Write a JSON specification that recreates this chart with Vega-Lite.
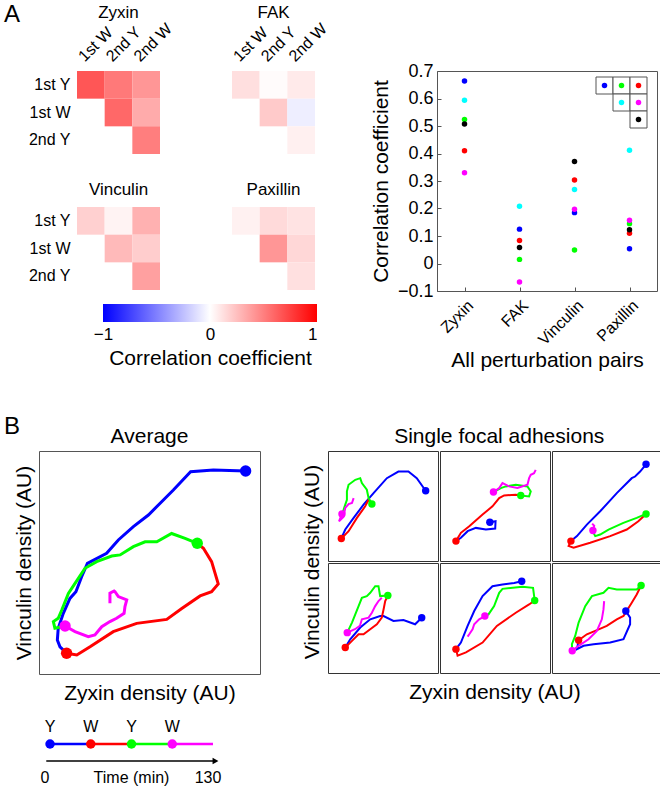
{
"$schema":"https://vega.github.io/schema/vega-lite/v6.json",
"padding":{"left":4,"top":3,"right":0,"bottom":0},
"config":{"font":"Liberation Sans","view":{"stroke":null},"title":{"fontWeight":"normal","color":"#000"},"axis":{"labelColor":"#000","titleColor":"#000","titleFontWeight":"normal","grid":false},"header":{"titleFontWeight":"normal","titleColor":"#000"}},
"datasets":{
"corr":[
{"protein":"Zyxin","pair":"Y1-W1","row":"1st Y","col":"1st W","r":0.664},
{"protein":"Zyxin","pair":"Y1-Y2","row":"1st Y","col":"2nd Y","r":0.524},
{"protein":"Zyxin","pair":"Y1-W2","row":"1st Y","col":"2nd W","r":0.41},
{"protein":"Zyxin","pair":"W1-Y2","row":"1st W","col":"2nd Y","r":0.594},
{"protein":"Zyxin","pair":"W1-W2","row":"1st W","col":"2nd W","r":0.33},
{"protein":"Zyxin","pair":"Y2-W2","row":"2nd Y","col":"2nd W","r":0.507},
{"protein":"FAK","pair":"Y1-W1","row":"1st Y","col":"1st W","r":0.125},
{"protein":"FAK","pair":"Y1-Y2","row":"1st Y","col":"2nd Y","r":0.015},
{"protein":"FAK","pair":"Y1-W2","row":"1st Y","col":"2nd W","r":0.084},
{"protein":"FAK","pair":"W1-Y2","row":"1st W","col":"2nd Y","r":0.208},
{"protein":"FAK","pair":"W1-W2","row":"1st W","col":"2nd W","r":-0.067},
{"protein":"FAK","pair":"Y2-W2","row":"2nd Y","col":"2nd W","r":0.058},
{"protein":"Vinculin","pair":"Y1-W1","row":"1st Y","col":"1st W","r":0.185},
{"protein":"Vinculin","pair":"Y1-Y2","row":"1st Y","col":"2nd Y","r":0.049},
{"protein":"Vinculin","pair":"Y1-W2","row":"1st Y","col":"2nd W","r":0.304},
{"protein":"Vinculin","pair":"W1-Y2","row":"1st W","col":"2nd Y","r":0.269},
{"protein":"Vinculin","pair":"W1-W2","row":"1st W","col":"2nd W","r":0.197},
{"protein":"Vinculin","pair":"Y2-W2","row":"2nd Y","col":"2nd W","r":0.371},
{"protein":"Paxillin","pair":"Y1-W1","row":"1st Y","col":"1st W","r":0.054},
{"protein":"Paxillin","pair":"Y1-Y2","row":"1st Y","col":"2nd Y","r":0.145},
{"protein":"Paxillin","pair":"Y1-W2","row":"1st Y","col":"2nd W","r":0.11},
{"protein":"Paxillin","pair":"W1-Y2","row":"1st W","col":"2nd Y","r":0.412},
{"protein":"Paxillin","pair":"W1-W2","row":"1st W","col":"2nd W","r":0.157},
{"protein":"Paxillin","pair":"Y2-W2","row":"2nd Y","col":"2nd W","r":0.123}
],
"key":[
{"pair":"Y1-W1","kr":0,"kc":0},{"pair":"Y1-Y2","kr":0,"kc":1},{"pair":"Y1-W2","kr":0,"kc":2},
{"pair":"W1-Y2","kr":1,"kc":1},{"pair":"W1-W2","kr":1,"kc":2},{"pair":"Y2-W2","kr":2,"kc":2}
],
"phases":[
{"ph":"Y1","lab":"Y","t0":0,"t1":32.5},{"ph":"W1","lab":"W","t0":32.5,"t1":65},
{"ph":"Y2","lab":"Y","t0":65,"t1":97.5},{"ph":"W2","lab":"W","t0":97.5,"t1":130}
],
"avg":[
{"ph":"Y1","i":0,"x":93.5,"y":91.0},{"ph":"Y1","i":1,"x":78.9,"y":91.5},{"ph":"Y1","i":2,"x":68.6,"y":90.7},{"ph":"Y1","i":3,"x":60.8,"y":82.5},{"ph":"Y1","i":4,"x":49.5,"y":71.3},{"ph":"Y1","i":5,"x":42.7,"y":66.1},{"ph":"Y1","i":6,"x":35.9,"y":60.1},{"ph":"Y1","i":7,"x":30.6,"y":54.1},{"ph":"Y1","i":8,"x":21.9,"y":49.6},{"ph":"Y1","i":9,"x":19.3,"y":43.6},{"ph":"Y1","i":10,"x":16.7,"y":36.9},{"ph":"Y1","i":11,"x":14.0,"y":33.9},{"ph":"Y1","i":12,"x":11.0,"y":27.2},{"ph":"Y1","i":13,"x":8.7,"y":20.5},{"ph":"Y1","i":14,"x":8.3,"y":15.2},{"ph":"Y1","i":15,"x":9.5,"y":12.2},{"ph":"Y1","i":16,"x":12.5,"y":9.3},
{"ph":"W1","i":0,"x":12.5,"y":9.3},{"ph":"W1","i":1,"x":17.1,"y":8.5},{"ph":"W1","i":2,"x":23.1,"y":12.2},{"ph":"W1","i":3,"x":33.6,"y":19.0},{"ph":"W1","i":4,"x":44.2,"y":22.7},{"ph":"W1","i":5,"x":57.8,"y":24.5},{"ph":"W1","i":6,"x":64.6,"y":29.4},{"ph":"W1","i":7,"x":72.9,"y":35.0},{"ph":"W1","i":8,"x":78.1,"y":36.9},{"ph":"W1","i":9,"x":81.1,"y":40.4},{"ph":"W1","i":10,"x":78.1,"y":50.4},{"ph":"W1","i":11,"x":74.4,"y":56.4},{"ph":"W1","i":12,"x":71.6,"y":58.6},
{"ph":"Y2","i":0,"x":71.6,"y":58.6},{"ph":"Y2","i":1,"x":66.1,"y":60.8},{"ph":"Y2","i":2,"x":60.0,"y":63.0},{"ph":"Y2","i":3,"x":53.3,"y":59.3},{"ph":"Y2","i":4,"x":48.0,"y":59.3},{"ph":"Y2","i":5,"x":42.7,"y":57.1},{"ph":"Y2","i":6,"x":36.7,"y":53.4},{"ph":"Y2","i":7,"x":32.9,"y":52.9},{"ph":"Y2","i":8,"x":26.1,"y":50.4},{"ph":"Y2","i":9,"x":20.8,"y":47.4},{"ph":"Y2","i":10,"x":17.8,"y":42.9},{"ph":"Y2","i":11,"x":13.3,"y":36.1},{"ph":"Y2","i":12,"x":10.3,"y":28.7},{"ph":"Y2","i":13,"x":8.7,"y":25.0},{"ph":"Y2","i":14,"x":6.5,"y":23.5},{"ph":"Y2","i":15,"x":7.2,"y":20.5},{"ph":"Y2","i":16,"x":11.8,"y":21.5},
{"ph":"W2","i":0,"x":11.8,"y":21.5},{"ph":"W2","i":1,"x":16.3,"y":19.0},{"ph":"W2","i":2,"x":22.3,"y":16.7},{"ph":"W2","i":3,"x":25.3,"y":17.5},{"ph":"W2","i":4,"x":28.4,"y":21.2},{"ph":"W2","i":5,"x":32.1,"y":23.5},{"ph":"W2","i":6,"x":35.1,"y":25.0},{"ph":"W2","i":7,"x":38.5,"y":27.2},{"ph":"W2","i":8,"x":38.9,"y":30.2},{"ph":"W2","i":9,"x":39.7,"y":33.2},{"ph":"W2","i":10,"x":35.9,"y":34.7},{"ph":"W2","i":11,"x":34.4,"y":36.9},{"ph":"W2","i":12,"x":34.0,"y":37.2},{"ph":"W2","i":13,"x":32.1,"y":36.2},{"ph":"W2","i":14,"x":32.1,"y":31.7}
],
"fa":[
{"pr":1,"pc":1,"ph":"Y1","i":0,"x":88.8,"y":63.9},{"pr":1,"pc":1,"ph":"Y1","i":1,"x":80.7,"y":75.3},{"pr":1,"pc":1,"ph":"Y1","i":2,"x":73.1,"y":81.3},{"pr":1,"pc":1,"ph":"Y1","i":3,"x":64.0,"y":81.3},{"pr":1,"pc":1,"ph":"Y1","i":4,"x":53.5,"y":75.3},{"pr":1,"pc":1,"ph":"Y1","i":5,"x":41.4,"y":61.7},{"pr":1,"pc":1,"ph":"Y1","i":6,"x":32.3,"y":51.2},{"pr":1,"pc":1,"ph":"Y1","i":7,"x":23.3,"y":39.2},{"pr":1,"pc":1,"ph":"Y1","i":8,"x":15.7,"y":28.6},{"pr":1,"pc":1,"ph":"Y1","i":9,"x":12.1,"y":20.5},
{"pr":1,"pc":1,"ph":"W1","i":0,"x":12.1,"y":20.5},{"pr":1,"pc":1,"ph":"W1","i":1,"x":18.7,"y":27.1},{"pr":1,"pc":1,"ph":"W1","i":2,"x":26.3,"y":39.2},{"pr":1,"pc":1,"ph":"W1","i":3,"x":33.8,"y":49.7},{"pr":1,"pc":1,"ph":"W1","i":4,"x":36.9,"y":55.7},{"pr":1,"pc":1,"ph":"W1","i":5,"x":39.9,"y":51.8},
{"pr":1,"pc":1,"ph":"Y2","i":0,"x":39.9,"y":51.8},{"pr":1,"pc":1,"ph":"Y2","i":1,"x":36.9,"y":57.2},{"pr":1,"pc":1,"ph":"Y2","i":2,"x":35.3,"y":64.8},{"pr":1,"pc":1,"ph":"Y2","i":3,"x":30.8,"y":70.8},{"pr":1,"pc":1,"ph":"Y2","i":4,"x":29.3,"y":75.3},{"pr":1,"pc":1,"ph":"Y2","i":5,"x":24.8,"y":73.8},{"pr":1,"pc":1,"ph":"Y2","i":6,"x":18.7,"y":69.3},{"pr":1,"pc":1,"ph":"Y2","i":7,"x":17.2,"y":63.3},{"pr":1,"pc":1,"ph":"Y2","i":8,"x":17.2,"y":55.7},{"pr":1,"pc":1,"ph":"Y2","i":9,"x":15.7,"y":51.2},{"pr":1,"pc":1,"ph":"Y2","i":10,"x":14.2,"y":46.7},{"pr":1,"pc":1,"ph":"Y2","i":11,"x":12.7,"y":42.8},
{"pr":1,"pc":1,"ph":"W2","i":0,"x":12.7,"y":42.8},{"pr":1,"pc":1,"ph":"W2","i":1,"x":10.0,"y":36.0},{"pr":1,"pc":1,"ph":"W2","i":2,"x":14.0,"y":40.0},{"pr":1,"pc":1,"ph":"W2","i":3,"x":15.7,"y":48.2},{"pr":1,"pc":1,"ph":"W2","i":4,"x":18.7,"y":51.8},{"pr":1,"pc":1,"ph":"W2","i":5,"x":21.8,"y":52.7},{"pr":1,"pc":1,"ph":"W2","i":6,"x":23.3,"y":57.2},
{"pr":1,"pc":2,"ph":"Y1","i":0,"x":45.3,"y":35.2},{"pr":1,"pc":2,"ph":"Y1","i":1,"x":50.5,"y":36.1},{"pr":1,"pc":2,"ph":"Y1","i":2,"x":50.2,"y":29.5},{"pr":1,"pc":2,"ph":"Y1","i":3,"x":41.7,"y":28.6},{"pr":1,"pc":2,"ph":"Y1","i":4,"x":32.6,"y":30.1},{"pr":1,"pc":2,"ph":"Y1","i":5,"x":25.1,"y":27.1},{"pr":1,"pc":2,"ph":"Y1","i":6,"x":19.0,"y":21.1},{"pr":1,"pc":2,"ph":"Y1","i":7,"x":14.5,"y":18.1},
{"pr":1,"pc":2,"ph":"W1","i":0,"x":14.5,"y":18.1},{"pr":1,"pc":2,"ph":"W1","i":1,"x":19.0,"y":25.6},{"pr":1,"pc":2,"ph":"W1","i":2,"x":26.6,"y":31.6},{"pr":1,"pc":2,"ph":"W1","i":3,"x":38.7,"y":42.2},{"pr":1,"pc":2,"ph":"W1","i":4,"x":47.7,"y":49.7},{"pr":1,"pc":2,"ph":"W1","i":5,"x":53.8,"y":57.2},{"pr":1,"pc":2,"ph":"W1","i":6,"x":58.3,"y":59.6},{"pr":1,"pc":2,"ph":"W1","i":7,"x":68.9,"y":60.2},{"pr":1,"pc":2,"ph":"W1","i":8,"x":73.4,"y":59.6},
{"pr":1,"pc":2,"ph":"Y2","i":0,"x":73.4,"y":59.6},{"pr":1,"pc":2,"ph":"Y2","i":1,"x":81.0,"y":58.7},{"pr":1,"pc":2,"ph":"Y2","i":2,"x":82.5,"y":63.3},{"pr":1,"pc":2,"ph":"Y2","i":3,"x":79.5,"y":67.8},{"pr":1,"pc":2,"ph":"Y2","i":4,"x":68.9,"y":69.3},{"pr":1,"pc":2,"ph":"Y2","i":5,"x":59.8,"y":67.8},{"pr":1,"pc":2,"ph":"Y2","i":6,"x":55.3,"y":66.3},{"pr":1,"pc":2,"ph":"Y2","i":7,"x":48.6,"y":62.7},
{"pr":1,"pc":2,"ph":"W2","i":0,"x":48.6,"y":62.7},{"pr":1,"pc":2,"ph":"W2","i":1,"x":53.8,"y":66.3},{"pr":1,"pc":2,"ph":"W2","i":2,"x":56.8,"y":70.8},{"pr":1,"pc":2,"ph":"W2","i":3,"x":62.8,"y":67.8},{"pr":1,"pc":2,"ph":"W2","i":4,"x":70.4,"y":66.3},{"pr":1,"pc":2,"ph":"W2","i":5,"x":79.5,"y":69.3},{"pr":1,"pc":2,"ph":"W2","i":6,"x":81.0,"y":75.3},{"pr":1,"pc":2,"ph":"W2","i":7,"x":82.5,"y":78.3},{"pr":1,"pc":2,"ph":"W2","i":8,"x":85.5,"y":79.8},{"pr":1,"pc":2,"ph":"W2","i":9,"x":87.0,"y":82.8},
{"pr":1,"pc":3,"ph":"Y1","i":0,"x":85.5,"y":87.9},{"pr":1,"pc":3,"ph":"Y1","i":1,"x":80.1,"y":81.3},{"pr":1,"pc":3,"ph":"Y1","i":2,"x":75.5,"y":76.8},{"pr":1,"pc":3,"ph":"Y1","i":3,"x":72.5,"y":75.3},{"pr":1,"pc":3,"ph":"Y1","i":4,"x":58.9,"y":61.7},{"pr":1,"pc":3,"ph":"Y1","i":5,"x":43.8,"y":45.2},{"pr":1,"pc":3,"ph":"Y1","i":6,"x":31.7,"y":33.1},{"pr":1,"pc":3,"ph":"Y1","i":7,"x":22.7,"y":22.6},{"pr":1,"pc":3,"ph":"Y1","i":8,"x":17.2,"y":18.1},
{"pr":1,"pc":3,"ph":"W1","i":0,"x":17.2,"y":18.1},{"pr":1,"pc":3,"ph":"W1","i":1,"x":15.1,"y":13.6},{"pr":1,"pc":3,"ph":"W1","i":2,"x":19.6,"y":12.0},{"pr":1,"pc":3,"ph":"W1","i":3,"x":34.7,"y":16.6},{"pr":1,"pc":3,"ph":"W1","i":4,"x":52.9,"y":22.6},{"pr":1,"pc":3,"ph":"W1","i":5,"x":68.0,"y":28.6},{"pr":1,"pc":3,"ph":"W1","i":6,"x":78.5,"y":36.1},{"pr":1,"pc":3,"ph":"W1","i":7,"x":85.5,"y":42.8},
{"pr":1,"pc":3,"ph":"Y2","i":0,"x":85.5,"y":42.8},{"pr":1,"pc":3,"ph":"Y2","i":1,"x":77.0,"y":39.2},{"pr":1,"pc":3,"ph":"Y2","i":2,"x":64.9,"y":34.6},{"pr":1,"pc":3,"ph":"Y2","i":3,"x":51.4,"y":28.6},{"pr":1,"pc":3,"ph":"Y2","i":4,"x":43.8,"y":24.1},{"pr":1,"pc":3,"ph":"Y2","i":5,"x":39.3,"y":22.6},{"pr":1,"pc":3,"ph":"Y2","i":6,"x":37.8,"y":25.6},{"pr":1,"pc":3,"ph":"Y2","i":7,"x":37.2,"y":27.7},
{"pr":1,"pc":3,"ph":"W2","i":0,"x":37.2,"y":27.7},{"pr":1,"pc":3,"ph":"W2","i":1,"x":38.4,"y":32.0},{"pr":1,"pc":3,"ph":"W2","i":2,"x":36.5,"y":34.0},
{"pr":2,"pc":1,"ph":"Y1","i":0,"x":85.2,"y":50.3},{"pr":2,"pc":1,"ph":"Y1","i":1,"x":79.2,"y":44.3},{"pr":2,"pc":1,"ph":"Y1","i":2,"x":68.6,"y":48.2},{"pr":2,"pc":1,"ph":"Y1","i":3,"x":59.5,"y":47.3},{"pr":2,"pc":1,"ph":"Y1","i":4,"x":50.5,"y":51.8},{"pr":2,"pc":1,"ph":"Y1","i":5,"x":47.4,"y":51.8},{"pr":2,"pc":1,"ph":"Y1","i":6,"x":38.4,"y":48.8},{"pr":2,"pc":1,"ph":"Y1","i":7,"x":29.3,"y":41.3},{"pr":2,"pc":1,"ph":"Y1","i":8,"x":20.2,"y":30.7},{"pr":2,"pc":1,"ph":"Y1","i":9,"x":15.7,"y":23.2},
{"pr":2,"pc":1,"ph":"W1","i":0,"x":15.7,"y":23.2},{"pr":2,"pc":1,"ph":"W1","i":1,"x":21.8,"y":29.2},{"pr":2,"pc":1,"ph":"W1","i":2,"x":27.8,"y":35.2},{"pr":2,"pc":1,"ph":"W1","i":3,"x":32.3,"y":35.2},{"pr":2,"pc":1,"ph":"W1","i":4,"x":38.4,"y":39.8},{"pr":2,"pc":1,"ph":"W1","i":5,"x":44.4,"y":44.3},{"pr":2,"pc":1,"ph":"W1","i":6,"x":48.9,"y":50.3},{"pr":2,"pc":1,"ph":"W1","i":7,"x":50.5,"y":57.8},{"pr":2,"pc":1,"ph":"W1","i":8,"x":52.0,"y":65.4},{"pr":2,"pc":1,"ph":"W1","i":9,"x":54.4,"y":70.5},
{"pr":2,"pc":1,"ph":"Y2","i":0,"x":54.4,"y":70.5},{"pr":2,"pc":1,"ph":"Y2","i":1,"x":47.4,"y":69.9},{"pr":2,"pc":1,"ph":"Y2","i":2,"x":45.9,"y":78.9},{"pr":2,"pc":1,"ph":"Y2","i":3,"x":42.9,"y":78.9},{"pr":2,"pc":1,"ph":"Y2","i":4,"x":38.4,"y":72.9},{"pr":2,"pc":1,"ph":"Y2","i":5,"x":35.3,"y":69.9},{"pr":2,"pc":1,"ph":"Y2","i":6,"x":30.8,"y":68.4},{"pr":2,"pc":1,"ph":"Y2","i":7,"x":27.8,"y":60.8},{"pr":2,"pc":1,"ph":"Y2","i":8,"x":24.8,"y":53.3},{"pr":2,"pc":1,"ph":"Y2","i":9,"x":21.8,"y":45.8},{"pr":2,"pc":1,"ph":"Y2","i":10,"x":17.5,"y":36.7},
{"pr":2,"pc":1,"ph":"W2","i":0,"x":17.5,"y":36.7},{"pr":2,"pc":1,"ph":"W2","i":1,"x":24.5,"y":39.8},{"pr":2,"pc":1,"ph":"W2","i":2,"x":29.0,"y":42.8},{"pr":2,"pc":1,"ph":"W2","i":3,"x":30.8,"y":48.8},{"pr":2,"pc":1,"ph":"W2","i":4,"x":36.9,"y":50.3},{"pr":2,"pc":1,"ph":"W2","i":5,"x":39.9,"y":54.8},{"pr":2,"pc":1,"ph":"W2","i":6,"x":42.9,"y":60.8},{"pr":2,"pc":1,"ph":"W2","i":7,"x":45.9,"y":65.4},{"pr":2,"pc":1,"ph":"W2","i":8,"x":48.9,"y":68.4},
{"pr":2,"pc":2,"ph":"Y1","i":0,"x":74.3,"y":83.4},{"pr":2,"pc":2,"ph":"Y1","i":1,"x":67.4,"y":81.9},{"pr":2,"pc":2,"ph":"Y1","i":2,"x":56.8,"y":80.4},{"pr":2,"pc":2,"ph":"Y1","i":3,"x":47.7,"y":78.9},{"pr":2,"pc":2,"ph":"Y1","i":4,"x":38.7,"y":69.9},{"pr":2,"pc":2,"ph":"Y1","i":5,"x":31.1,"y":56.3},{"pr":2,"pc":2,"ph":"Y1","i":6,"x":25.1,"y":42.8},{"pr":2,"pc":2,"ph":"Y1","i":7,"x":19.0,"y":27.7},{"pr":2,"pc":2,"ph":"Y1","i":8,"x":14.5,"y":21.7},
{"pr":2,"pc":2,"ph":"W1","i":0,"x":14.5,"y":21.7},{"pr":2,"pc":2,"ph":"W1","i":1,"x":16.0,"y":15.7},{"pr":2,"pc":2,"ph":"W1","i":2,"x":23.6,"y":18.7},{"pr":2,"pc":2,"ph":"W1","i":3,"x":38.7,"y":27.7},{"pr":2,"pc":2,"ph":"W1","i":4,"x":51.7,"y":42.8},{"pr":2,"pc":2,"ph":"W1","i":5,"x":68.9,"y":54.8},{"pr":2,"pc":2,"ph":"W1","i":6,"x":81.0,"y":62.3},{"pr":2,"pc":2,"ph":"W1","i":7,"x":86.1,"y":65.9},
{"pr":2,"pc":2,"ph":"Y2","i":0,"x":86.1,"y":65.9},{"pr":2,"pc":2,"ph":"Y2","i":1,"x":84.6,"y":77.4},{"pr":2,"pc":2,"ph":"Y2","i":2,"x":74.9,"y":78.3},{"pr":2,"pc":2,"ph":"Y2","i":3,"x":56.8,"y":76.5},{"pr":2,"pc":2,"ph":"Y2","i":4,"x":53.8,"y":72.9},{"pr":2,"pc":2,"ph":"Y2","i":5,"x":49.2,"y":60.8},{"pr":2,"pc":2,"ph":"Y2","i":6,"x":44.1,"y":53.3},{"pr":2,"pc":2,"ph":"Y2","i":7,"x":40.8,"y":51.8},
{"pr":2,"pc":2,"ph":"W2","i":0,"x":40.8,"y":51.8},{"pr":2,"pc":2,"ph":"W2","i":1,"x":35.6,"y":48.8},{"pr":2,"pc":2,"ph":"W2","i":2,"x":31.1,"y":44.3},{"pr":2,"pc":2,"ph":"W2","i":3,"x":29.6,"y":39.8},{"pr":2,"pc":2,"ph":"W2","i":4,"x":26.6,"y":35.2},{"pr":2,"pc":2,"ph":"W2","i":5,"x":25.1,"y":33.1},
{"pr":2,"pc":3,"ph":"Y1","i":0,"x":67.1,"y":56.3},{"pr":2,"pc":3,"ph":"Y1","i":1,"x":71.0,"y":50.3},{"pr":2,"pc":3,"ph":"Y1","i":2,"x":71.0,"y":44.3},{"pr":2,"pc":3,"ph":"Y1","i":3,"x":65.0,"y":30.7},{"pr":2,"pc":3,"ph":"Y1","i":4,"x":52.9,"y":27.7},{"pr":2,"pc":3,"ph":"Y1","i":5,"x":37.8,"y":26.2},{"pr":2,"pc":3,"ph":"Y1","i":6,"x":28.7,"y":24.7},{"pr":2,"pc":3,"ph":"Y1","i":7,"x":22.7,"y":21.7},{"pr":2,"pc":3,"ph":"Y1","i":8,"x":24.2,"y":29.8},
{"pr":2,"pc":3,"ph":"W1","i":0,"x":24.2,"y":29.8},{"pr":2,"pc":3,"ph":"W1","i":1,"x":31.7,"y":35.2},{"pr":2,"pc":3,"ph":"W1","i":2,"x":39.3,"y":38.3},{"pr":2,"pc":3,"ph":"W1","i":3,"x":49.8,"y":42.8},{"pr":2,"pc":3,"ph":"W1","i":4,"x":58.9,"y":48.8},{"pr":2,"pc":3,"ph":"W1","i":5,"x":65.0,"y":51.8},{"pr":2,"pc":3,"ph":"W1","i":6,"x":72.5,"y":63.9},{"pr":2,"pc":3,"ph":"W1","i":7,"x":77.0,"y":71.4},{"pr":2,"pc":3,"ph":"W1","i":8,"x":81.0,"y":79.5},
{"pr":2,"pc":3,"ph":"Y2","i":0,"x":81.0,"y":79.5},{"pr":2,"pc":3,"ph":"Y2","i":1,"x":77.0,"y":75.9},{"pr":2,"pc":3,"ph":"Y2","i":2,"x":58.9,"y":75.9},{"pr":2,"pc":3,"ph":"Y2","i":3,"x":51.4,"y":77.4},{"pr":2,"pc":3,"ph":"Y2","i":4,"x":46.8,"y":72.9},{"pr":2,"pc":3,"ph":"Y2","i":5,"x":36.3,"y":69.9},{"pr":2,"pc":3,"ph":"Y2","i":6,"x":30.2,"y":60.8},{"pr":2,"pc":3,"ph":"Y2","i":7,"x":24.2,"y":45.8},{"pr":2,"pc":3,"ph":"Y2","i":8,"x":21.1,"y":33.7},{"pr":2,"pc":3,"ph":"Y2","i":9,"x":18.1,"y":26.2},{"pr":2,"pc":3,"ph":"Y2","i":10,"x":18.4,"y":20.2},
{"pr":2,"pc":3,"ph":"W2","i":0,"x":18.4,"y":20.2},{"pr":2,"pc":3,"ph":"W2","i":1,"x":24.2,"y":24.7},{"pr":2,"pc":3,"ph":"W2","i":2,"x":33.2,"y":30.7},{"pr":2,"pc":3,"ph":"W2","i":3,"x":40.8,"y":38.3},{"pr":2,"pc":3,"ph":"W2","i":4,"x":45.3,"y":48.8},{"pr":2,"pc":3,"ph":"W2","i":5,"x":46.8,"y":57.8},{"pr":2,"pc":3,"ph":"W2","i":6,"x":47.4,"y":65.4}
]
},
"vconcat":[
{"vconcat":[
 {"hconcat":[
   {"hconcat":[
     {"width":38,"height":10,"title":{"text":"A","anchor":"start","fontSize":24,"baseline":"alphabetic","offset":25,"dx":-35},"data":{"values":[]},"mark":"point","encoding":{}},
     {"vconcat":[
       {"vconcat":[
         {"hconcat":[
           {"width":83,"height":83,"title":{"text":"Zyxin","fontSize":17,"offset":-2},"data":{"name":"corr"},"transform":[{"filter":"datum.protein == 'Zyxin'"}],"mark":{"type":"rect"},
            "encoding":{"x":{"field":"col","type":"nominal","scale":{"domain":["1st W","2nd Y","2nd W"],"paddingInner":0,"paddingOuter":0},"axis":{"orient":"top","title":null,"labelAngle":-45,"labelAlign":"left","labelBaseline":"alphabetic","labelOffset":-6,"labelPadding":9,"ticks":false,"domain":false,"labelFontSize":16}},
             "y":{"field":"row","type":"nominal","scale":{"domain":["1st Y","1st W","2nd Y"],"paddingInner":0,"paddingOuter":0},"axis":{"title":null,"ticks":false,"domain":false,"labelFontSize":16,"labelPadding":7}},
             "color":{"field":"r","type":"quantitative","scale":{"domain":[-1,0,1],"range":["#0000ff","#ffffff","#ff0000"],"interpolate":"rgb"},"legend":null}}},
           {"width":83,"height":83,"title":{"text":"FAK","fontSize":17,"offset":-2},"data":{"name":"corr"},"transform":[{"filter":"datum.protein == 'FAK'"}],"mark":{"type":"rect"},
            "encoding":{"x":{"field":"col","type":"nominal","scale":{"domain":["1st W","2nd Y","2nd W"],"paddingInner":0,"paddingOuter":0},"axis":{"orient":"top","title":null,"labelAngle":-45,"labelAlign":"left","labelBaseline":"alphabetic","labelOffset":-6,"labelPadding":9,"ticks":false,"domain":false,"labelFontSize":16}},
             "y":{"field":"row","type":"nominal","scale":{"domain":["1st Y","1st W","2nd Y"],"paddingInner":0,"paddingOuter":0},"axis":null},
             "color":{"field":"r","type":"quantitative","scale":{"domain":[-1,0,1],"range":["#0000ff","#ffffff","#ff0000"],"interpolate":"rgb"},"legend":null}}}
         ],"spacing":72,"bounds":"flush","resolve":{"scale":{"x":"independent","y":"independent","color":"independent"}}},
         {"hconcat":[
           {"width":83,"height":83,"title":{"text":"Vinculin","fontSize":17,"offset":8},"data":{"name":"corr"},"transform":[{"filter":"datum.protein == 'Vinculin'"}],"mark":{"type":"rect"},
            "encoding":{"x":{"field":"col","type":"nominal","scale":{"domain":["1st W","2nd Y","2nd W"],"paddingInner":0,"paddingOuter":0},"axis":null},
             "y":{"field":"row","type":"nominal","scale":{"domain":["1st Y","1st W","2nd Y"],"paddingInner":0,"paddingOuter":0},"axis":{"title":null,"ticks":false,"domain":false,"labelFontSize":16,"labelPadding":7}},
             "color":{"field":"r","type":"quantitative","scale":{"domain":[-1,0,1],"range":["#0000ff","#ffffff","#ff0000"],"interpolate":"rgb"},"legend":null}}},
           {"width":83,"height":83,"title":{"text":"Paxillin","fontSize":17,"offset":8},"data":{"name":"corr"},"transform":[{"filter":"datum.protein == 'Paxillin'"}],"mark":{"type":"rect"},
            "encoding":{"x":{"field":"col","type":"nominal","scale":{"domain":["1st W","2nd Y","2nd W"],"paddingInner":0,"paddingOuter":0},"axis":null},
             "y":{"field":"row","type":"nominal","scale":{"domain":["1st Y","1st W","2nd Y"],"paddingInner":0,"paddingOuter":0},"axis":null},
             "color":{"field":"r","type":"quantitative","scale":{"domain":[-1,0,1],"range":["#0000ff","#ffffff","#ff0000"],"interpolate":"rgb"},"legend":null}}}
         ],"spacing":72,"bounds":"flush","resolve":{"scale":{"x":"independent","y":"independent","color":"independent"}}}
       ],"spacing":136,"bounds":"flush","resolve":{"scale":{"x":"independent","y":"independent","color":"independent"}}},
       {"width":240,"height":18,"data":{"values":[{"lo":-1,"hi":1}]},
        "mark":{"type":"rect","fill":{"gradient":"linear","x1":0,"y1":0,"x2":1,"y2":0,"stops":[{"offset":0,"color":"#0000ff"},{"offset":0.5,"color":"#ffffff"},{"offset":1,"color":"#ff0000"}]}},
        "encoding":{"x":{"field":"lo","type":"quantitative","scale":{"domain":[-1.243,1],"nice":false,"zero":false},"axis":{"values":[-1,0,1],"format":"d","domain":false,"ticks":false,"labelFontSize":17,"labelPadding":4,"title":"Correlation coefficient","titleFontSize":21,"titleX":133,"titlePadding":5}},
         "x2":{"field":"hi"}}}
     ],"spacing":233,"bounds":"flush","resolve":{"scale":{"x":"independent","y":"independent","color":"independent"}}}
   ],"spacing":0,"bounds":"flush","resolve":{"scale":{"x":"independent","y":"independent","color":"independent"}}},
   {"width":220,"height":220,"view":{"stroke":"#555"},
    "layer":[
     {"data":{"name":"corr"},"mark":{"type":"circle","size":30,"opacity":1},
      "encoding":{
       "x":{"field":"protein","type":"nominal","scale":{"type":"point","domain":["Zyxin","FAK","Vinculin","Paxillin"],"padding":0.5},"axis":{"title":"All perturbation pairs","labelAngle":-45,"labelFontSize":16,"titleFontSize":21,"domain":false,"tickSize":-4,"tickColor":"#555","labelPadding":10,"titlePadding":2}},
       "y":{"field":"r","type":"quantitative","scale":{"domain":[-0.1,0.7],"nice":false,"zero":false},"axis":{"title":"Correlation coefficient","values":[-0.1,0,0.1,0.2,0.3,0.4,0.5,0.6,0.7],"labelExpr":"datum.value == 0 ? '0' : format(datum.value, '.1f')","labelFontSize":18,"titleFontSize":21,"domain":false,"tickSize":-4,"tickColor":"#555","labelPadding":8,"titlePadding":6}},
       "color":{"field":"pair","type":"nominal","scale":{"domain":["Y1-W1","Y1-Y2","Y1-W2","W1-Y2","W1-W2","Y2-W2"],"range":["#0000ff","#00ff00","#ff0000","#00ffff","#ff00ff","#000000"]},"legend":null}}},
     {"data":{"name":"key"},
      "encoding":{
       "x":{"field":"kc","type":"quantitative","scale":{"domain":[-9.853,3.088],"nice":false,"zero":false},"axis":null},
       "y":{"field":"kr","type":"quantitative","scale":{"domain":[-0.853,12.088],"reverse":true,"nice":false,"zero":false},"axis":null}},
      "layer":[
       {"mark":{"type":"rect","width":17,"height":17,"fill":"#ffffff","stroke":"#555","strokeWidth":1}},
       {"mark":{"type":"circle","size":30,"opacity":1},"encoding":{"color":{"field":"pair","type":"nominal","legend":null}}}
      ]}
    ],
    "resolve":{"scale":{"x":"independent","y":"independent"}}}
 ],"spacing":398,"bounds":"flush","resolve":{"scale":{"x":"independent","y":"independent","color":"independent"}}},
 {"width":10,"height":10,"title":{"text":"B","orient":"bottom","anchor":"start","fontSize":24,"baseline":"alphabetic","offset":168,"dx":-35},"data":{"values":[]},"mark":"point","encoding":{}},
 {"hconcat":[
   {"width":221,"height":223,"view":{"stroke":"#555"},"title":{"text":"Average","fontSize":21,"offset":4},
    "data":{"name":"avg"},
    "encoding":{
      "x":{"field":"x","type":"quantitative","scale":{"domain":[0,100],"nice":false,"zero":false},"axis":{"title":"Zyxin density (AU)","labels":false,"ticks":false,"domain":false,"titleFontSize":21,"titlePadding":8}},
      "y":{"field":"y","type":"quantitative","scale":{"domain":[0,100],"nice":false,"zero":false},"axis":{"title":"Vinculin density (AU)","labels":false,"ticks":false,"domain":false,"titleFontSize":21,"titlePadding":5}},
      "color":{"field":"ph","type":"nominal","scale":{"domain":["Y1","W1","Y2","W2"],"range":["#0000ff","#ff0000","#00ff00","#ff00ff"]},"legend":null}},
    "layer":[
      {"mark":{"type":"line","strokeWidth":3},"encoding":{"order":{"field":"i","type":"quantitative"}}},
      {"transform":[{"filter":"datum.i == 0"}],"mark":{"type":"circle","size":130,"opacity":1}}
    ]},
   {"data":{"name":"fa"},
    "title":{"text":"Single focal adhesions","fontSize":21,"offset":4,"anchor":"middle","dx":17},
    "facet":{
      "row":{"field":"pr","type":"ordinal","title":"Vinculin density (AU)","header":{"labels":false,"titleFontSize":21,"titlePadding":-6}},
      "column":{"field":"pc","type":"ordinal","title":"Zyxin density (AU)","header":{"labels":false,"titleOrient":"bottom","titleFontSize":21,"titlePadding":-2}}},
    "spacing":{"row":0,"column":0},
    "spec":{"width":110,"height":110,"view":{"stroke":"#333"},
      "encoding":{
        "x":{"field":"x","type":"quantitative","scale":{"domain":[0,100],"nice":false,"zero":false},"axis":null},
        "y":{"field":"y","type":"quantitative","scale":{"domain":[0,100],"nice":false,"zero":false},"axis":null},
        "color":{"field":"ph","type":"nominal","scale":{"domain":["Y1","W1","Y2","W2"],"range":["#0000ff","#ff0000","#00ff00","#ff00ff"]},"legend":null}},
      "layer":[
        {"mark":{"type":"line","strokeWidth":2},"encoding":{"order":{"field":"i","type":"quantitative"}}},
        {"transform":[{"filter":"datum.i == 0"}],"mark":{"type":"circle","size":55,"opacity":1}}
      ]}}
 ],"spacing":68,"bounds":"flush","resolve":{"scale":{"x":"independent","y":"independent","color":"independent"}}}
],"spacing":185,"bounds":"flush","resolve":{"scale":{"x":"independent","y":"independent","color":"independent"}}},
{"width":179,"height":51,
 "layer":[
  {"data":{"name":"phases"},"mark":{"type":"rule","strokeWidth":2.5},
   "encoding":{"x":{"field":"t0","type":"quantitative","scale":{"domain":[-8.8,134],"nice":false,"zero":false},"axis":null},"x2":{"field":"t1"},
     "y":{"datum":"line","type":"ordinal","scale":{"type":"point","domain":["label","line","arrow","axis"],"padding":0},"axis":null},
     "color":{"field":"ph","type":"nominal","scale":{"domain":["Y1","W1","Y2","W2"],"range":["#0000ff","#ff0000","#00ff00","#ff00ff"]},"legend":null}}},
  {"data":{"name":"phases"},"mark":{"type":"circle","size":90,"opacity":1},
   "encoding":{"x":{"field":"t0","type":"quantitative"},"y":{"datum":"line","type":"ordinal"},"color":{"field":"ph","type":"nominal","legend":null}}},
  {"data":{"name":"phases"},"mark":{"type":"text","fontSize":16,"baseline":"middle","color":"#000"},
   "encoding":{"x":{"field":"t0","type":"quantitative"},"y":{"datum":"label","type":"ordinal"},"text":{"field":"lab"}}},
  {"data":{"values":[{"a0":-3,"a1":132}]},"mark":{"type":"rule","strokeWidth":1.5,"color":"#000"},
   "encoding":{"x":{"field":"a0","type":"quantitative"},"x2":{"field":"a1"},"y":{"datum":"arrow","type":"ordinal"}}},
  {"data":{"values":[{"a1":132}]},"mark":{"type":"point","shape":"triangle-right","filled":true,"color":"#000","size":45,"opacity":1},
   "encoding":{"x":{"field":"a1","type":"quantitative"},"y":{"datum":"arrow","type":"ordinal"}}},
  {"data":{"values":[{"t":0,"s":"0"},{"t":69,"s":"Time (min)"},{"t":130,"s":"130"}]},"mark":{"type":"text","fontSize":16,"baseline":"middle","color":"#000","dx":-5},
   "encoding":{"x":{"field":"t","type":"quantitative"},"y":{"datum":"axis","type":"ordinal"},"text":{"field":"s"}}}
 ]}
],"spacing":656,"bounds":"flush","resolve":{"scale":{"x":"independent","y":"independent","color":"independent"}}
}
